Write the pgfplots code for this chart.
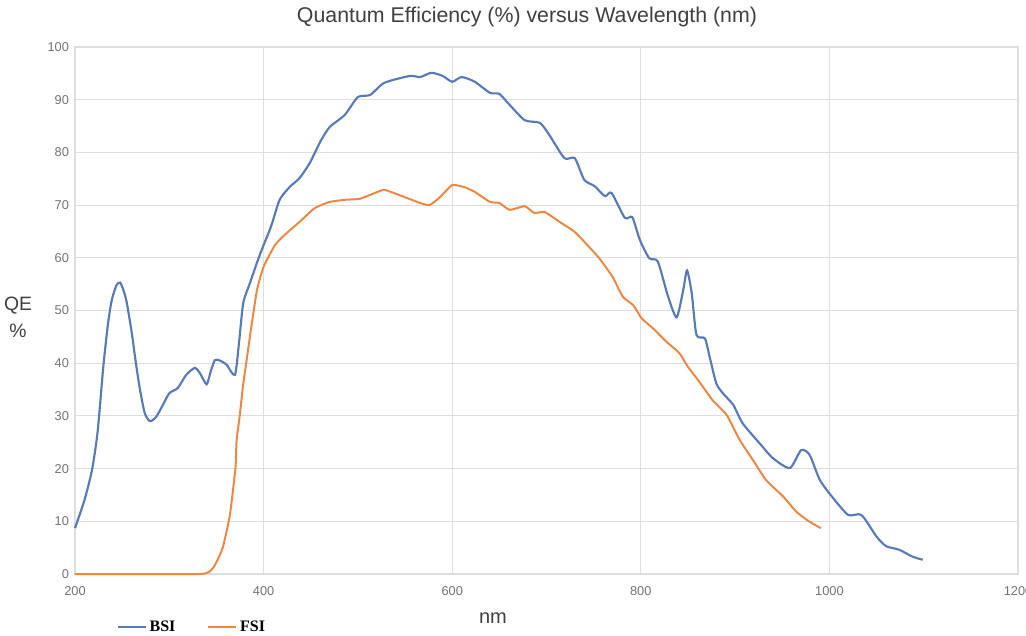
\documentclass[border=0pt]{standalone}
\usepackage{pgfplots}
\pgfplotsset{compat=1.18}
\usepackage{fontspec}
\setmainfont{Liberation Sans}
\newfontfamily\legfont{Liberation Serif}
\definecolor{bsi}{RGB}{88,122,184}
\definecolor{fsi}{RGB}{236,136,70}
\definecolor{gridc}{RGB}{222,222,222}
\definecolor{tickc}{RGB}{115,115,115}
\begin{document}
\begin{tikzpicture}
\path[use as bounding box] (-56.25pt,-46.5pt) rectangle (713.25pt,430.5pt);
\begin{axis}[name=ax, at={(0,0)}, anchor=south west,
  scale only axis, width=707.25pt, height=395.25pt,
  xmin=200, xmax=1200, ymin=0, ymax=100,
  xtick={200,400,...,1200}, ytick={0,10,...,100},
  grid=major, major grid style={gridc, line width=0.8pt},
  axis line style={gridc, line width=0.8pt},
  tick style={draw=none},
  /pgf/number format/assume math mode=true,
  /pgf/number format/set thousands separator={},
  ticklabel style={font=\fontsize{9.6}{10}\selectfont, text=tickc},
  xticklabel style={yshift=-6pt},
  yticklabel style={xshift=-1pt},
  legend style={at={(0.040,-0.1006)}, anchor=west, draw=none, fill=none,
    font=\legfont\bfseries\fontsize{12}{13}\selectfont,
    /tikz/every even column/.append style={column sep=22pt}},
  legend columns=2,
  legend image code/.code={\draw[#1, line width=1.5pt] (0pt,0pt) -- (21pt,0pt);},
  clip=false,
]
\addplot[bsi, line width=1.6pt, smooth, tension=0.4] coordinates {
(200,8.7) (210,14) (218,19.7) (224,27) (230,39.3) (235,47.5) (239,52) (244,54.8) (248,55.3) (252,53.5) (255,51.4) (260,46) (265,39.5) (269,34.9) (274,30.5) (279.5,29) (286,29.8) (293,32) (300,34.3) (309,35.3) (318,37.8) (327,39.1) (332.5,38.1) (339.6,36) (344,38.5) (348.4,40.6) (353.7,40.5) (360.8,39.7) (369.6,37.8) (374,44) (378.4,51.4) (385.5,55.2) (394,59.6) (400,62.4) (408,66) (417,71) (428,73.5) (438,75.1) (449,78) (460,82) (470,84.8) (486,87.1) (500,90.5) (513,90.9) (528,93.2) (555,94.5) (566,94.3) (578,95.1) (590,94.5) (600,93.4) (610,94.3) (624,93.4) (640,91.3) (650,91.1) (661,89) (677,86.1) (693,85.6) (703,83.3) (719,78.9) (730,78.9) (740,74.8) (751,73.6) (762,71.7) (769,72.3) (783,67.6) (791,67.7) (799,63.4) (809,59.9) (818,59.3) (829,52.6) (838,48.7) (845,53.9) (849,57.6) (854,53.3) (859,45.4) (868,44.7) (873,41.2) (880,36.2) (887,34.3) (898,32.1) (908,28.6) (926,24.8) (940,22) (958,20.1) (970,23.5) (979,22.6) (990,17.8) (1004,14.4) (1020,11.2) (1034,11.2) (1050,7.1) (1060,5.3) (1074,4.6) (1088,3.3) (1099,2.7)
};
\addlegendentry{BSI}
\addplot[fsi, line width=1.5pt, smooth, tension=0.3] coordinates {
(200,0) (300,0) (330,0) (338,0.1) (343,0.5) (347,1.3) (351,2.6) (357,5.2) (364,10.9) (368,16.6) (370.3,20.4) (371.4,25.4) (375,30.5) (378,35.5) (382,40.6) (387,46.9) (393,53.9) (400,58.3) (412,62.4) (422,64.3) (438,66.8) (454,69.4) (470,70.6) (486,71) (502,71.2) (518,72.3) (528,72.9) (544,71.9) (566,70.4) (576,70) (587,71.5) (600,73.8) (613,73.4) (624,72.5) (640,70.6) (650,70.4) (661,69.1) (677,69.8) (687,68.5) (698,68.7) (714,66.8) (730,64.9) (746,61.9) (756,59.9) (770,56.4) (781,52.6) (792,51) (801,48.5) (813,46.6) (827,44.1) (841,41.9) (850,39.3) (862,36.5) (876,33) (891,30.2) (905,25.4) (919,21.6) (933,17.8) (951,14.7) (965,11.8) (979,9.9) (991,8.7)
};
\addlegendentry{FSI}
\end{axis}
\node[font=\fontsize{16}{18}\selectfont, text={rgb,255:red,64;green,64;blue,64}] at (339pt,418pt) {Quantum Efficiency (\%) versus Wavelength (nm)};
\node[font=\fontsize{14.5}{16}\selectfont, text={rgb,255:red,64;green,64;blue,64}] at (-42.75pt,201pt) {QE};
\node[font=\fontsize{14.5}{16}\selectfont, text={rgb,255:red,64;green,64;blue,64}] at (-42.75pt,182pt) {\%};
\node[font=\fontsize{15}{17}\selectfont, text={rgb,255:red,64;green,64;blue,64}] at (313.5pt,-33pt) {nm};
\end{tikzpicture}
\end{document}
